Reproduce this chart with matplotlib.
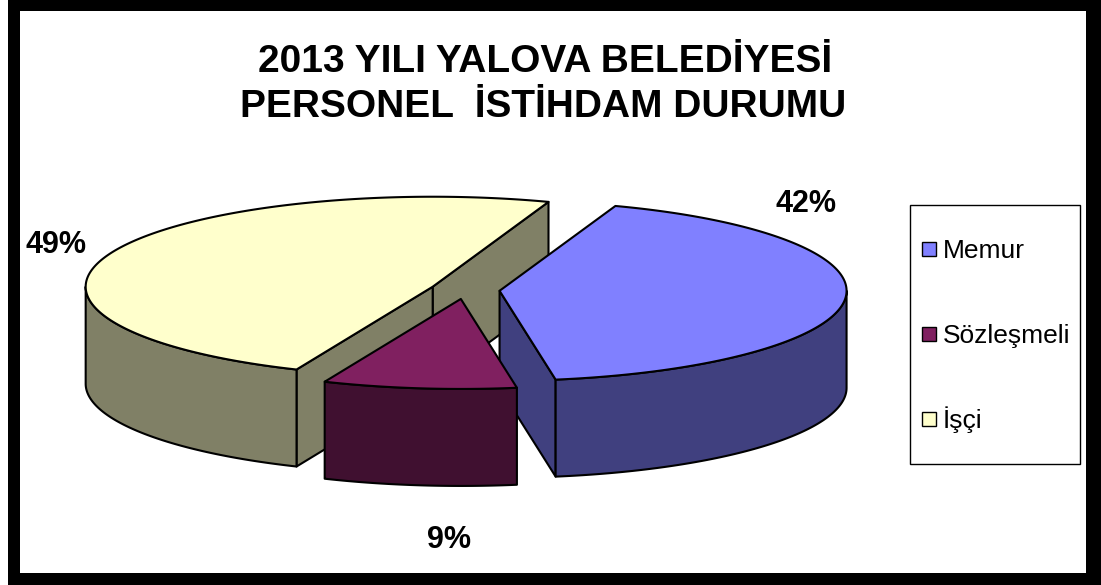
import numpy as np
import matplotlib
matplotlib.use("Agg")
import matplotlib.pyplot as plt
from matplotlib.patches import Polygon, Rectangle

#%% data
labels = ['Memur', 'Sözleşmeli', 'İşçi']
values = [42, 9, 49]
pct_text = ['42%', '9%', '49%']
top_colors = ['#8080FF', '#802060', '#FFFFCC']
side_colors = ['#40407F', '#401030', '#808066']

title1 = '2013 YILI YALOVA BELEDİYESİ'
title2 = 'PERSONEL  İSTİHDAM DURUMU'

#%% layout (pixels)
cx, cy = 465, 290          # pie centre
rx, ry = 347, 90           # projected radii
depth = 97                 # thickness of the pie
explode = 0.10
start = 70.5               # first slice starts here, goes clockwise
label_xy = [(806, 212), (449, 548), (56, 253)]

plt.rcParams['font.family'] = ['Liberation Sans', 'DejaVu Sans']

fig = plt.figure(figsize=(11.01, 5.85), dpi=100)
ax = fig.add_axes([0, 0, 1, 1])
ax.set_xlim(0, 1101)
ax.set_ylim(585, 0)
ax.axis('off')

# frame
ax.add_patch(Rectangle((8, 0), 1093, 585, facecolor='black', edgecolor='none', zorder=0))
ax.add_patch(Rectangle((20, 11), 1066, 562, facecolor='white', edgecolor='none', zorder=0))


def pt(t, ox, oy, dz=0.0):
    r = np.deg2rad(t)
    return ox + rx * np.cos(r), oy - ry * np.sin(r) + dz


#%% build slices
total = float(sum(values))
slices = []
acc = 0.0
for i, v in enumerate(values):
    t_hi = start - acc / total * 360
    t_lo = t_hi - v / total * 360
    acc += v
    mid = np.deg2rad((t_lo + t_hi) / 2)
    ox = cx + explode * rx * np.cos(mid)
    oy = cy - explode * ry * np.sin(mid)
    slices.append((oy, i, t_lo, t_hi, ox))

ew = 1.5
for oy, i, t_lo, t_hi, ox in sorted(slices):
    # radial faces
    faces = []
    if np.cos(np.deg2rad(t_lo)) > 0:
        faces.append(t_lo)
    if np.cos(np.deg2rad(t_hi)) < 0:
        faces.append(t_hi)
    for t in faces:
        ex, ey = pt(t, ox, oy)
        poly = [(ox, oy), (ex, ey), (ex, ey + depth), (ox, oy + depth)]
        ax.add_patch(Polygon(poly, closed=True, facecolor=side_colors[i],
                             edgecolor='black', lw=ew, joinstyle='round', zorder=2))
    # outer wall (front half only)
    for k in range(-2, 2):
        lo = max(t_lo, 180 + 360 * k)
        hi = min(t_hi, 360 + 360 * k)
        if lo < hi:
            ts = np.linspace(lo, hi, 200)
            xs, ys = pt(ts, ox, oy)
            poly = list(zip(xs, ys)) + list(zip(xs[::-1], ys[::-1] + depth))
            ax.add_patch(Polygon(poly, closed=True, facecolor=side_colors[i],
                                 edgecolor='black', lw=ew, joinstyle='round', zorder=2))
    # top face
    ts = np.linspace(t_lo, t_hi, 300)
    xs, ys = pt(ts, ox, oy)
    poly = [(ox, oy)] + list(zip(xs, ys))
    ax.add_patch(Polygon(poly, closed=True, facecolor=top_colors[i],
                         edgecolor='black', lw=ew, joinstyle='round', zorder=2))

#%% percentage labels
for (x, y), s in zip(label_xy, pct_text):
    ax.text(x, y, s, ha='center', va='baseline', fontsize=22, fontweight='bold', zorder=3)

#%% title
ax.text(545, 72, title1, ha='center', va='baseline', fontsize=28, fontweight='bold')
ax.text(543, 117, title2, ha='center', va='baseline', fontsize=28, fontweight='bold')

#%% legend
ax.add_patch(Rectangle((910, 204.5), 170, 259.5, facecolor='white', edgecolor='black', lw=1.0, zorder=3))
leg_y = [248.5, 334, 419]
for i, lab in enumerate(labels):
    ax.add_patch(Rectangle((922, leg_y[i] - 7), 14, 14, facecolor=top_colors[i],
                           edgecolor='black', lw=1.0, zorder=4))
    ax.text(943, leg_y[i] + 9, lab, ha='left', va='baseline', fontsize=19, zorder=4)

fig.savefig('out.png', dpi=100)
